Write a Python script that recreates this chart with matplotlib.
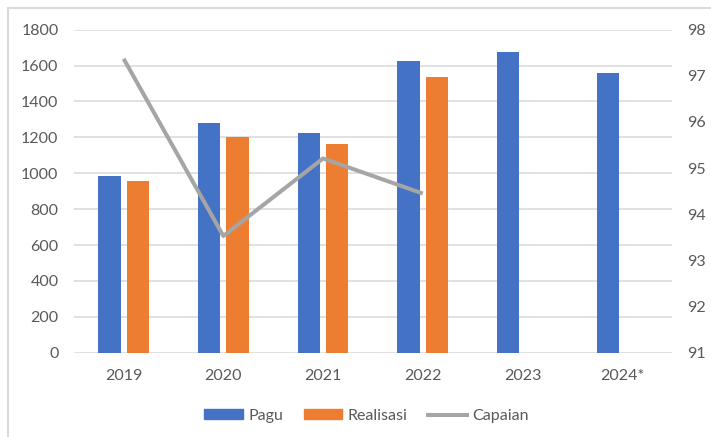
import numpy as np
import matplotlib.pyplot as plt
from matplotlib.lines import Line2D

plt.rcParams["font.family"] = ["Lato", "DejaVu Sans"]

years = ["2019", "2020", "2021", "2022", "2023", "2024*"]
pagu = [985, 1278, 1223, 1626, 1678, 1557]
realisasi = [957, 1200, 1163, 1535]
capaian = [97.37, 93.53, 95.21, 94.45]

BLUE = "#4472C4"
ORANGE = "#ED7D31"
GRAY = "#A5A5A5"
GRID = "#D9D9D9"
TEXT = "#595959"

fig = plt.figure(figsize=(7.11, 4.37), dpi=100)
ax = fig.add_axes([0.1038, 0.1929, 0.8414, 0.7391])
ax2 = ax.twinx()

x = np.arange(len(years))
w = 0.225
off = 0.1425
ax.bar(x - off, pagu, w, color=BLUE, label="Pagu", zorder=3)
ax.bar(x[:len(realisasi)] + off, realisasi, w, color=ORANGE, label="Realisasi", zorder=3)
ax2.plot(x[:len(capaian)], capaian, color=GRAY, linewidth=2.9, label="Capaian",
         solid_capstyle="butt")

ax.set_xlim(-0.5, len(years) - 0.5)
ax.set_ylim(0, 1800)
ax.set_yticks(range(0, 1801, 200))
ax2.set_ylim(91, 98)
ax2.set_yticks(range(91, 99))

ax.yaxis.grid(True, color=GRID, linewidth=1.1, zorder=0)
ax.set_axisbelow(True)
for a in (ax, ax2):
    for s in a.spines.values():
        s.set_visible(False)
    a.tick_params(length=0, labelsize=11.5, labelcolor=TEXT)
ax.tick_params(axis="x", pad=12)
ax.tick_params(axis="y", pad=11)
ax2.tick_params(axis="y", pad=11)
ax.set_xticks(x)
ax.set_xticklabels(years)
ax.set_zorder(ax2.get_zorder() - 1)
ax.patch.set_visible(False)
ax2.patch.set_visible(False)

handles = [
    plt.Rectangle((0, 0), 1, 1, color=BLUE),
    plt.Rectangle((0, 0), 1, 1, color=ORANGE),
    Line2D([0], [0], color=GRAY, linewidth=2.9),
]
fig.legend(handles, ["Pagu", "Realisasi", "Capaian"], loc="center",
           bbox_to_anchor=(0.5155, 0.048), ncol=3, frameon=False,
           fontsize=11.5, labelcolor=TEXT, handlelength=2.4, handleheight=0.6,
           handletextpad=0.35, columnspacing=1.3)

# chart border (left and top edges)
fig.add_artist(Line2D([7.5 / 711, 7.5 / 711], [0, 1 - 8 / 437], color=GRID, linewidth=1.5))
fig.add_artist(Line2D([7.5 / 711, 1], [1 - 8 / 437, 1 - 8 / 437], color=GRID, linewidth=1.5))

fig.savefig("out.png", dpi=100)
